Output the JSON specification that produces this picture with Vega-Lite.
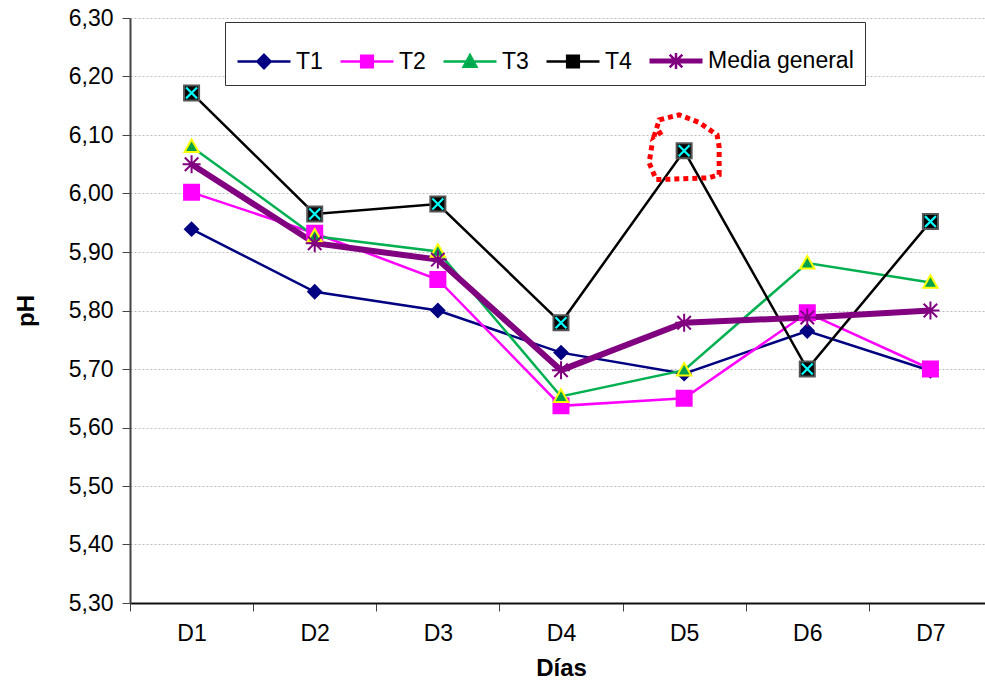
{
  "$schema": "https://vega.github.io/schema/vega-lite/v6.json",
  "autosize": {"type": "none"},
  "padding": {"left": 130, "top": 18, "right": 0, "bottom": 84},
  "width": 855,
  "height": 585,
  "background": "white",
  "config": {
    "view": {"stroke": null},
    "font": "Liberation Sans",
    "axis": {"labelFont": "Liberation Sans", "titleFont": "Liberation Sans", "labelColor": "#000", "titleColor": "#000"}
  },
  "resolve": {"scale": {"shape": "independent", "fill": "independent", "stroke": "independent"}},
  "data": {"values": [
    {"dia": "D1", "serie": "T1", "ph": 5.939},
    {"dia": "D2", "serie": "T1", "ph": 5.832},
    {"dia": "D3", "serie": "T1", "ph": 5.800},
    {"dia": "D4", "serie": "T1", "ph": 5.728},
    {"dia": "D5", "serie": "T1", "ph": 5.692},
    {"dia": "D6", "serie": "T1", "ph": 5.765},
    {"dia": "D7", "serie": "T1", "ph": 5.697},
    {"dia": "D1", "serie": "T2", "ph": 6.002},
    {"dia": "D2", "serie": "T2", "ph": 5.932},
    {"dia": "D3", "serie": "T2", "ph": 5.853},
    {"dia": "D4", "serie": "T2", "ph": 5.637},
    {"dia": "D5", "serie": "T2", "ph": 5.650},
    {"dia": "D6", "serie": "T2", "ph": 5.796},
    {"dia": "D7", "serie": "T2", "ph": 5.700},
    {"dia": "D1", "serie": "T3", "ph": 6.080},
    {"dia": "D2", "serie": "T3", "ph": 5.927},
    {"dia": "D3", "serie": "T3", "ph": 5.901},
    {"dia": "D4", "serie": "T3", "ph": 5.653},
    {"dia": "D5", "serie": "T3", "ph": 5.698},
    {"dia": "D6", "serie": "T3", "ph": 5.881},
    {"dia": "D7", "serie": "T3", "ph": 5.848},
    {"dia": "D1", "serie": "T4", "ph": 6.172},
    {"dia": "D2", "serie": "T4", "ph": 5.965},
    {"dia": "D3", "serie": "T4", "ph": 5.982},
    {"dia": "D4", "serie": "T4", "ph": 5.779},
    {"dia": "D5", "serie": "T4", "ph": 6.073},
    {"dia": "D6", "serie": "T4", "ph": 5.700},
    {"dia": "D7", "serie": "T4", "ph": 5.952},
    {"dia": "D1", "serie": "Media general", "ph": 6.050},
    {"dia": "D2", "serie": "Media general", "ph": 5.915},
    {"dia": "D3", "serie": "Media general", "ph": 5.887},
    {"dia": "D4", "serie": "Media general", "ph": 5.698},
    {"dia": "D5", "serie": "Media general", "ph": 5.779},
    {"dia": "D6", "serie": "Media general", "ph": 5.788},
    {"dia": "D7", "serie": "Media general", "ph": 5.800}
  ]},
  "encoding": {
    "x": {
      "field": "dia", "type": "nominal",
      "scale": {"type": "band", "domain": ["D1","D2","D3","D4","D5","D6","D7"], "range": [0, 862], "paddingInner": 0, "paddingOuter": 0},
      "axis": {"title": "Días", "titleFontSize": 24, "titleFontWeight": "bold", "titlePadding": 11, "labelAngle": 0, "labelFontSize": 23, "labelPadding": 11, "tickBand": "extent", "tickSize": 8, "tickColor": "#444", "domainColor": "#111", "domainWidth": 2, "grid": false}
    },
    "y": {
      "field": "ph", "type": "quantitative",
      "scale": {"domain": [5.3, 6.3], "nice": false, "zero": false},
      "axis": {"title": "pH", "titleFontSize": 24, "titleFontWeight": "bold", "titlePadding": 30, "values": [5.3, 5.4, 5.5, 5.6, 5.7, 5.8, 5.9, 6.0, 6.1, 6.2, 6.3], "labelExpr": "replace(format(datum.value, '.2f'), '.', ',')", "labelFontSize": 23, "labelPadding": 9, "tickSize": 8, "tickColor": "#444", "domainColor": "#444", "domainWidth": 2, "grid": true, "gridColor": "#bbbbbb", "gridDash": [2, 2], "gridWidth": 1}
    }
  },
  "layer": [
    {
      "transform": [{"filter": "datum.serie !== 'Media general'"}],
      "mark": {"type": "line", "strokeWidth": 2.5},
      "encoding": {
        "color": {"field": "serie", "type": "nominal", "scale": {"domain": ["Media general","T1","T2","T3","T4"], "range": ["#800080", "#000080", "#ff00ff", "#00b050", "#000000"]}, "legend": null}
      }
    },
    {
      "transform": [{"filter": "datum.serie === 'Media general'"}],
      "mark": {"type": "line", "strokeWidth": 6},
      "encoding": {
        "color": {"field": "serie", "type": "nominal", "legend": null}
      }
    },
    {
      "mark": {"type": "point", "filled": true, "strokeWidth": 2, "opacity": 1, "size": 225},
      "encoding": {
        "fill": {"field": "serie", "type": "nominal", "scale": {"domain": ["Media general","T1","T2","T3","T4"], "range": ["transparent", "#000080", "#ff00ff", "#00a04c", "#000000"]}, "legend": null},
        "stroke": {"field": "serie", "type": "nominal", "scale": {"domain": ["Media general","T1","T2","T3","T4"], "range": ["#800080", "#000080", "#ff00ff", "#ffff00", "#555555"]}, "legend": null},
        "shape": {"field": "serie", "type": "nominal", "scale": {"domain": ["Media general","T1","T2","T3","T4"], "range": ["M-1.2,0H1.2M-0.9,-0.9L0.9,0.9M-0.9,0.9L0.9,-0.9M0,-1.2V1.2", "M-0.87,0L0,-0.87L0.87,0L0,0.87Z", "M-1,-1H1V1H-1Z", "M0,-0.95L0.95,0.72H-0.95Z", "M-1,-1H1V1H-1Z"]}, "legend": null}
      }
    },
    {
      "transform": [{"filter": "datum.serie === 'T4'"}],
      "mark": {"type": "point", "filled": false, "shape": "M-1,-1L1,1M-1,1L1,-1", "size": 120, "stroke": "#00ffff", "strokeWidth": 2.2, "opacity": 1}
    },
    {
      "data": {"values": [{"dia": "D5", "ph": 6.08}]},
      "mark": {"type": "point", "filled": false, "shape": "M-0.63,-0.43L-0.86,-0.29L-0.71,-0.77L-0.14,-0.91L0.43,-0.69L0.94,-0.34L1,0L1,0.8L0.71,0.89L-0.8,0.94L-1,0.46L-0.91,-0.11", "size": 4900, "stroke": "#ff0000", "strokeWidth": 5, "strokeDash": [5, 4], "opacity": 1}
    },
    {
      "transform": [{"filter": "datum.ph > 100"}],
      "mark": {"type": "point", "filled": true, "opacity": 1},
      "encoding": {
        "fill": {"field": "serie", "type": "nominal", "scale": {"domain": ["T1","T2","T3","T4","Media general"], "range": ["#000080", "#ff00ff", "#00a04c", "#000000", "transparent"]}},
        "stroke": {"field": "serie", "type": "nominal", "scale": {"domain": ["T1","T2","T3","T4","Media general"], "range": ["#000080", "#ff00ff", "#00b050", "#000000", "#800080"]}},
        "shape": {"field": "serie", "type": "nominal",
          "scale": {"domain": ["T1","T2","T3","T4","Media general"], "range": [
            "M-1,0H1M0,-0.25L0.25,0L0,0.25L-0.25,0Z",
            "M-1,0H1M-0.22,-0.22H0.22V0.22H-0.22Z",
            "M-1,0H1M0,-0.24L0.24,0.2H-0.24Z",
            "M-1,0H1M-0.22,-0.22H0.22V0.22H-0.22Z",
            "M-1,-0.045H1M-1,0H1M-1,0.045H1M-0.24,-0.24L0.24,0.24M-0.24,0.24L0.24,-0.24M0,-0.3V0.3"
          ]},
          "legend": {
            "title": null, "orient": "none", "legendX": 95, "legendY": 4, "direction": "horizontal",
            "strokeColor": "#333", "fillColor": "white", "padding": 11,
            "labelFontSize": 23, "labelFont": "Liberation Sans", "labelColor": "#000", "labelOffset": 4, "columnPadding": 12,
            "symbolSize": 2809, "symbolStrokeWidth": 2.5, "symbolOpacity": 1
          }
        }
      }
    }
  ]
}
